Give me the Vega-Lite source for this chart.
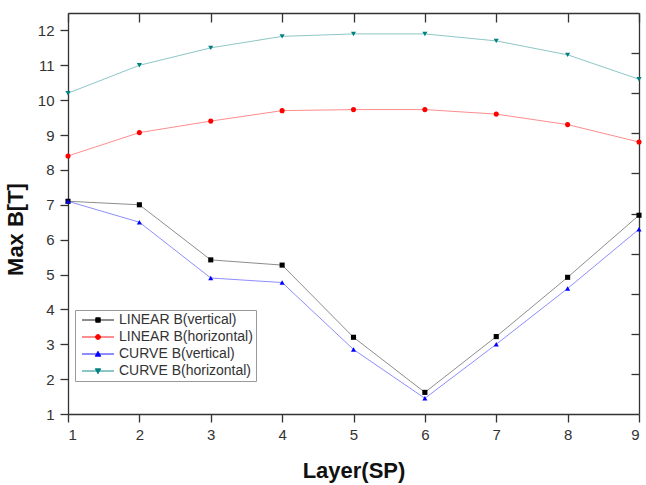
{
  "$schema": "https://vega.github.io/schema/vega-lite/v6.json",
  "width": 571,
  "height": 401,
  "autosize": {"type": "none"},
  "padding": {"left": 68, "top": 13, "right": 7, "bottom": 71},
  "background": "white",
  "config": {
    "view": {"stroke": null},
    "font": "Liberation Sans",
    "axis": {"grid": false, "domainColor": "#333", "tickColor": "#333", "labelColor": "#333", "labelFont": "Liberation Sans", "labelFontSize": 15, "titleFont": "Liberation Sans", "titleFontWeight": "bold", "titleColor": "#111", "domainWidth": 1.3, "tickWidth": 1.3}
  },
  "data": {
    "values": [
      {"layer": 1, "b": 7.1, "series": "LINEAR B(vertical)"},
      {"layer": 2, "b": 7.0, "series": "LINEAR B(vertical)"},
      {"layer": 3, "b": 5.42, "series": "LINEAR B(vertical)"},
      {"layer": 4, "b": 5.27, "series": "LINEAR B(vertical)"},
      {"layer": 5, "b": 3.2, "series": "LINEAR B(vertical)"},
      {"layer": 6, "b": 1.62, "series": "LINEAR B(vertical)"},
      {"layer": 7, "b": 3.22, "series": "LINEAR B(vertical)"},
      {"layer": 8, "b": 4.92, "series": "LINEAR B(vertical)"},
      {"layer": 9, "b": 6.7, "series": "LINEAR B(vertical)"},
      {"layer": 1, "b": 8.4, "series": "LINEAR B(horizontal)"},
      {"layer": 2, "b": 9.07, "series": "LINEAR B(horizontal)"},
      {"layer": 3, "b": 9.4, "series": "LINEAR B(horizontal)"},
      {"layer": 4, "b": 9.7, "series": "LINEAR B(horizontal)"},
      {"layer": 5, "b": 9.73, "series": "LINEAR B(horizontal)"},
      {"layer": 6, "b": 9.73, "series": "LINEAR B(horizontal)"},
      {"layer": 7, "b": 9.6, "series": "LINEAR B(horizontal)"},
      {"layer": 8, "b": 9.3, "series": "LINEAR B(horizontal)"},
      {"layer": 9, "b": 8.8, "series": "LINEAR B(horizontal)"},
      {"layer": 1, "b": 7.1, "series": "CURVE B(vertical)"},
      {"layer": 2, "b": 6.5, "series": "CURVE B(vertical)"},
      {"layer": 3, "b": 4.9, "series": "CURVE B(vertical)"},
      {"layer": 4, "b": 4.77, "series": "CURVE B(vertical)"},
      {"layer": 5, "b": 2.85, "series": "CURVE B(vertical)"},
      {"layer": 6, "b": 1.45, "series": "CURVE B(vertical)"},
      {"layer": 7, "b": 3.0, "series": "CURVE B(vertical)"},
      {"layer": 8, "b": 4.6, "series": "CURVE B(vertical)"},
      {"layer": 9, "b": 6.3, "series": "CURVE B(vertical)"},
      {"layer": 1, "b": 10.2, "series": "CURVE B(horizontal)"},
      {"layer": 2, "b": 11.0, "series": "CURVE B(horizontal)"},
      {"layer": 3, "b": 11.5, "series": "CURVE B(horizontal)"},
      {"layer": 4, "b": 11.83, "series": "CURVE B(horizontal)"},
      {"layer": 5, "b": 11.9, "series": "CURVE B(horizontal)"},
      {"layer": 6, "b": 11.9, "series": "CURVE B(horizontal)"},
      {"layer": 7, "b": 11.7, "series": "CURVE B(horizontal)"},
      {"layer": 8, "b": 11.3, "series": "CURVE B(horizontal)"},
      {"layer": 9, "b": 10.6, "series": "CURVE B(horizontal)"}
    ]
  },
  "layer": [
    {
      "mark": {"type": "line", "strokeWidth": 1, "opacity": 0.45, "clip": true},
      "encoding": {
        "x": {"field": "layer", "type": "quantitative", "scale": {"domain": [1, 9], "nice": false, "zero": false},
              "axis": {"orient": "bottom", "values": [1,2,3,4,5,6,7,8,9], "title": "Layer(SP)", "titleFontSize": 22, "titlePadding": 18, "tickSize": 8, "labelPadding": 5}},
        "y": {"field": "b", "type": "quantitative", "scale": {"domain": [1, 12.5], "nice": false, "zero": false},
              "axis": {"orient": "left", "values": [1,2,3,4,5,6,7,8,9,10,11,12], "title": "Max B[T]", "titleFontSize": 22, "titlePadding": 10, "titleY": 216, "tickSize": 8, "labelPadding": 6}},
        "color": {"field": "series", "type": "nominal",
                  "scale": {"domain": ["LINEAR B(vertical)", "LINEAR B(horizontal)", "CURVE B(vertical)", "CURVE B(horizontal)"], "range": ["#000000", "#ff0000", "#0000ff", "#008080"]},
                  "legend": {"title": null, "orient": "none", "legendX": 7, "legendY": 297, "strokeColor": "#999", "padding": 3, "labelFont": "Liberation Sans", "labelFontSize": 14, "labelColor": "#333", "symbolSize": 100, "symbolOffset": 13, "labelOffset": 14, "rowPadding": 3,
                    "symbolType": {"expr": "datum.value === 'LINEAR B(vertical)' ? 'M-3.2,0H3.2M-0.45,-0.45H0.45V0.45H-0.45Z' : datum.value === 'LINEAR B(horizontal)' ? 'M-3.2,0H3.2M0.5,0A0.5,0.5 0 1,1 -0.5,0A0.5,0.5 0 1,1 0.5,0Z' : datum.value === 'CURVE B(vertical)' ? 'M-3.2,0H3.2M0,-0.55L0.55,0.45L-0.55,0.45Z' : 'M-3.2,0H3.2M0,0.55L0.55,-0.45L-0.55,-0.45Z'"},
                    "symbolFillColor": {"expr": "scale('color', datum.value)"},
                    "symbolStrokeColor": {"expr": "datum.value === 'LINEAR B(vertical)' ? '#999999' : datum.value === 'LINEAR B(horizontal)' ? '#ff9999' : datum.value === 'CURVE B(vertical)' ? '#9999ff' : '#77bbbb'"},
                    "symbolStrokeWidth": 0.9,
                    "symbolOpacity": 1}}
      }
    },
    {
      "mark": {"type": "point", "filled": true, "opacity": 1, "size": 26},
      "encoding": {
        "x": {"field": "layer", "type": "quantitative", "axis": {"orient": "top", "values": [1,2,3,4,5,6,7,8,9], "labels": false, "title": null, "tickSize": -9}},
        "y": {"field": "b", "type": "quantitative", "axis": {"orient": "right", "values": [2.15, 3.3, 4.45, 5.6, 6.75, 7.9, 9.05, 10.2, 11.35], "labels": false, "title": null, "tickSize": -8}},
        "color": {"field": "series", "type": "nominal", "legend": null},
        "shape": {"field": "series", "type": "nominal", "legend": null,
                  "scale": {"domain": ["LINEAR B(vertical)", "LINEAR B(horizontal)", "CURVE B(vertical)", "CURVE B(horizontal)"], "range": ["square", "circle", "triangle-up", "triangle-down"]}}
      }
    }
  ],
  "resolve": {"axis": {"x": "independent", "y": "independent"}, "legend": {"color": "independent", "shape": "independent"}}
}
